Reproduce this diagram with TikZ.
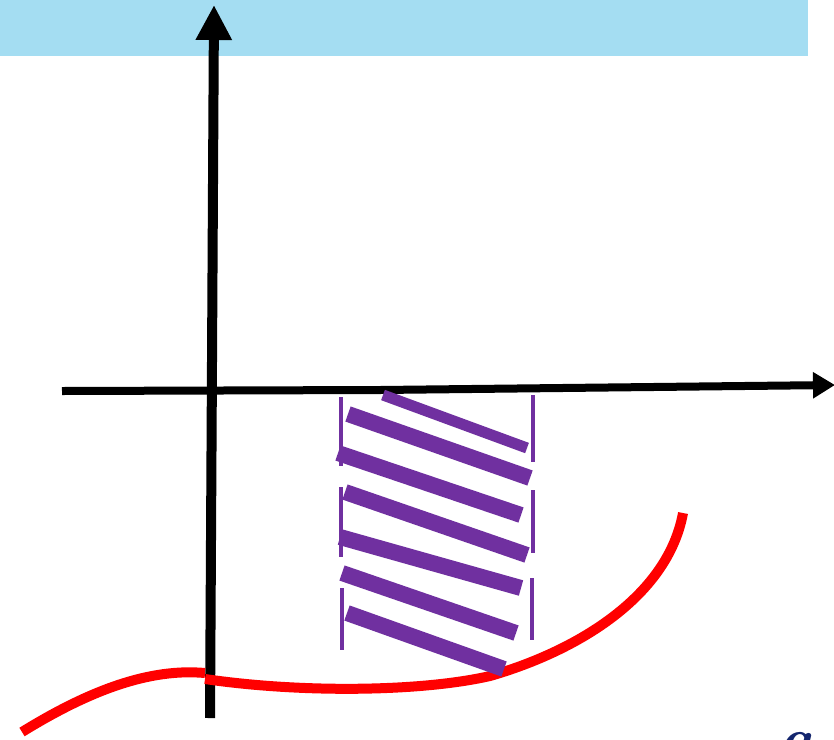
\documentclass[tikz,border=0pt]{standalone}
\usetikzlibrary{arrows.meta}
\definecolor{barblue}{RGB}{164,221,242}
\definecolor{hatchpurple}{RGB}{112,48,160}
\definecolor{curvered}{RGB}{255,0,0}
\definecolor{navy}{RGB}{20,38,110}
\tikzset{
  yaxisline/.style={line width=10pt, black, -{Triangle[length=35pt,width=34pt]}},
  xaxisline/.style={line width=8pt, black, -{Triangle[length=22pt,width=25pt]}},
  strip/.style={line width=16pt, hatchpurple},
  thinstrip/.style={line width=11pt, hatchpurple},
  sidebar/.style={line width=4pt, hatchpurple},
  redcurve/.style={line width=10pt, curvered},
}
\begin{document}
\begin{tikzpicture}[x=1pt,y=-1pt]
\clip (0,0) rectangle (834,739);
\useasboundingbox (0,0) rectangle (834,739);
\fill[white] (0,0) rectangle (834,739);
% top band
\fill[barblue] (0,0) rectangle (808,56);
% axes
\coordinate (yb) at (210,718);
\coordinate (yt) at (214,5);
\coordinate (xl) at (62,391);
\coordinate (xm) at (380,390);
\coordinate (xr) at (835,385);
\draw[yaxisline] (yb) -- (yt);
\draw[xaxisline] (xl) -- (xm) -- (xr);
% red curve
\coordinate (r0) at (22,732);
\coordinate (r1) at (205,673);
\coordinate (r2) at (205,679);
\coordinate (r3) at (490,676);
\coordinate (r4) at (683,513);
\draw[redcurve] (r0) .. controls (90,690) and (150,668) .. (r1);
\draw[redcurve] (r2) .. controls (300,693) and (420,692) .. (r3)
  .. controls (580,650) and (668,595) .. (r4);
% purple side bars
\draw[sidebar] (341,397) -- (341,466);
\draw[sidebar] (341,487) -- (341,557);
\draw[sidebar] (342,588) -- (342,650);
\draw[sidebar] (533,395) -- (533,462);
\draw[sidebar] (533,490) -- (533,553);
\draw[sidebar] (532,578) -- (532,640);
% purple strips
\draw[thinstrip] (383,395) -- (527,448);
\draw[strip] (348,414) -- (530,478);
\draw[strip] (338,453) -- (521,515);
\draw[strip] (345,492) -- (527,555);
\draw[strip] (340,537) -- (521,588);
\draw[strip] (342,573) -- (516,633);
\draw[strip] (347,613) -- (504,669);
% cut-off letter
\node[anchor=north west, inner sep=0pt, text=navy, font=\fontsize{60}{60}\selectfont\bfseries\itshape] (lettera) at (778,732) {a};
\end{tikzpicture}
\end{document}
